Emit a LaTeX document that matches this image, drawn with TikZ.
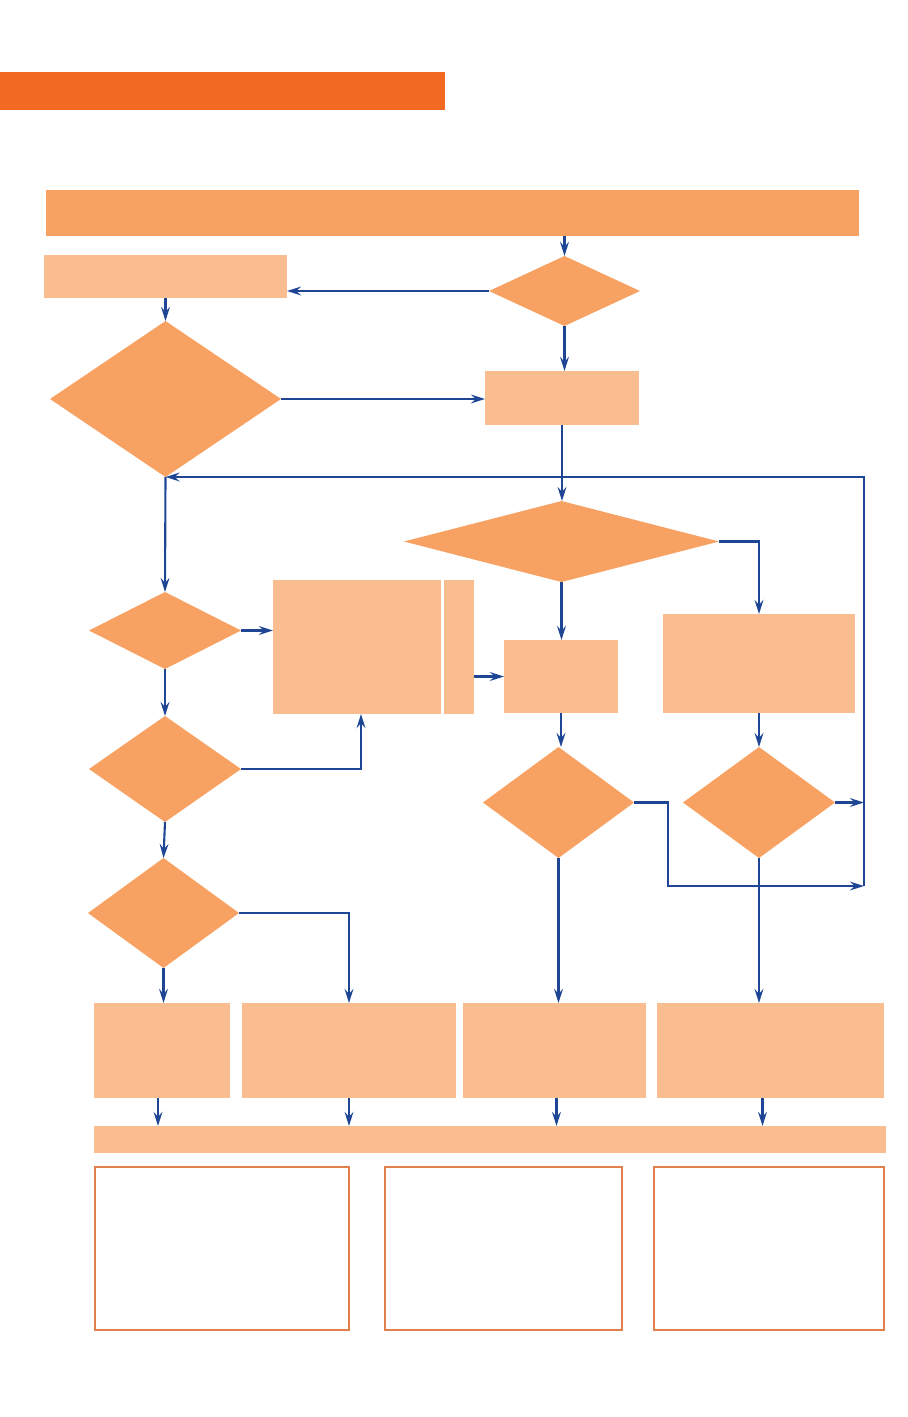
\documentclass[tikz,border=0pt]{standalone}
\usepackage{xcolor}
\definecolor{TITLECOLOR}{HTML}{F26A21}
\definecolor{HEADCOLOR}{HTML}{F7A262}
\definecolor{STEPCOLOR}{HTML}{F9BD8F}
\definecolor{NOTECOLOR}{HTML}{E0804A}
\definecolor{LINKCOLOR}{HTML}{1E4695}
\usepackage{tikz}
\usetikzlibrary{shapes.geometric,arrows.meta,positioning}
\tikzset{
  wh/.style 2 args = {
    minimum width=#1*0.02cm,
    minimum height=#2*0.02cm
  },
  basic-style/.style = {
    rectangle, draw=none,
    fill=#1,
    inner sep=0pt, outer sep=0pt
  },
  title-style/.style = {
    basic-style=TITLECOLOR
  },
  head-style/.style = {
    basic-style=HEADCOLOR
  },
  step-style/.style = {
    basic-style=STEPCOLOR
  },
  ask-style/.style = {
    basic-style=HEADCOLOR, diamond
  },
  note-style/.style = {
    rectangle, draw=NOTECOLOR, line width=0.6pt, fill=white,
    inner sep=0pt
  },
  link-style/.style = {
    draw=LINKCOLOR, line width=1.2pt,
    -{Stealth[length=8pt,width=5pt,inset=2.8pt]}
  },
  every edge/.style = {link-style}
}

\begin{document}
\begin{tikzpicture}[x=0.02cm,y=-0.02cm]
    \useasboundingbox (0,0) rectangle (907,1417);

    %%% title and head
    \node[title-style,wh={445}{38}] (title) at (222.5,91) {};
    \node[head-style,wh={813}{46}] (head) at (452.5,213) {};

    %%% upper part
    \node[step-style,wh={243}{43}] (stepA) at (165.5,276.5) {};
    \node[ask-style,wh={151}{70}] (askA) at (564.5,291) {};
    \node[ask-style,wh={231}{156}] (askB) at (165.5,399) {};
    \node[step-style,wh={154}{54}] (stepB) at (562,398) {};
    \node[ask-style,wh={315}{81}] (askC) at (561.5,541.5) {};

    %%% middle part
    \node[ask-style,wh={152}{77}] (askD) at (165,630.5) {};
    \node[step-style,wh={168}{134}] (stepC) at (357,647) {};
    \node[step-style,wh={30}{134},right=3*0.02cm of stepC] (stepCside) {};
    \node[step-style,wh={114}{73}] (stepE) at (561,676.5) {};
    \node[step-style,wh={192}{99}] (stepF) at (759,663.5) {};
    \node[ask-style,wh={152}{106}] (askE) at (165,769) {};
    \node[ask-style,wh={151}{111}] (askF) at (558.5,802.5) {};
    \node[ask-style,wh={152}{111}] (askG) at (759,802.5) {};
    \node[ask-style,wh={151}{110}] (askH) at (163.5,913) {};

    %%% outcomes
    \node[step-style,wh={136}{95}] (endA) at (162,1050.5) {};
    \node[step-style,wh={214}{95}] (endB) at (349,1050.5) {};
    \node[step-style,wh={183}{95}] (endC) at (554.5,1050.5) {};
    \node[step-style,wh={227}{95}] (endD) at (770.5,1050.5) {};
    \node[step-style,wh={792}{27}] (bar) at (490,1139.5) {};

    %%% notes
    \node[note-style,wh={254}{163}] (noteA) at (222,1248.5) {};
    \node[note-style,wh={237}{163}] (noteB) at (503.5,1248.5) {};
    \node[note-style,wh={230}{163}] (noteC) at (769,1248.5) {};

    %%% loop back
    \coordinate (loopLow) at (864,886);
    \coordinate (loopTop) at (864,477);
    \coordinate (bendF) at (668,886);

    %%% arrows
    \path (head.south -| askA.north) edge (askA.north);
    \path (askA.west) edge (stepA.east |- askA.west);
    \path (stepA.south -| askB.north) edge (askB.north);
    \path (askA.south) edge (askA.south |- stepB.north);
    \path (askB.east) edge (stepB.west |- askB.east);
    \path (stepB.south) edge (stepB.south |- askC.north);
    \draw[link-style] (askC.east) -| (stepF.north);
    \path (askC.south) edge (askC.south |- stepE.north);
    \path (askB.south) edge (askD.north);
    \path (askD.east) edge (stepC.west |- askD.east);
    \path (stepCside.east |- stepE.west) edge (stepE.west);
    \path (askD.south) edge (askE.north);
    \draw[link-style] (askE.east) -| ([xshift=4*0.02cm]stepC.south);
    \path (stepE.south) edge (stepE.south |- askF.north);
    \path (stepF.south) edge (askG.north);
    \path (askE.south) edge (askH.north);
    \draw[link-style] (askH.east) -| (endB.north);
    \path (askH.south) edge (askH.south |- endA.north);
    \path (askF.south) edge (askF.south |- endC.north);
    \path (askG.south) edge (askG.south |- endD.north);
    \draw[link-style] (askF.east) -| (bendF) -- (loopLow);
    \path (askG.east) edge (askG.east -| loopLow);
    \draw[link-style] (loopLow) -- (loopTop) -- (askB.south);
    \path ([xshift=-4*0.02cm]endA.south) edge ([xshift=-4*0.02cm]endA.south |- bar.north);
    \path (endB.south) edge (endB.south |- bar.north);
    \path ([xshift=2*0.02cm]endC.south) edge ([xshift=2*0.02cm]endC.south |- bar.north);
    \path ([xshift=-8*0.02cm]endD.south) edge ([xshift=-8*0.02cm]endD.south |- bar.north);
\end{tikzpicture}
\end{document}
